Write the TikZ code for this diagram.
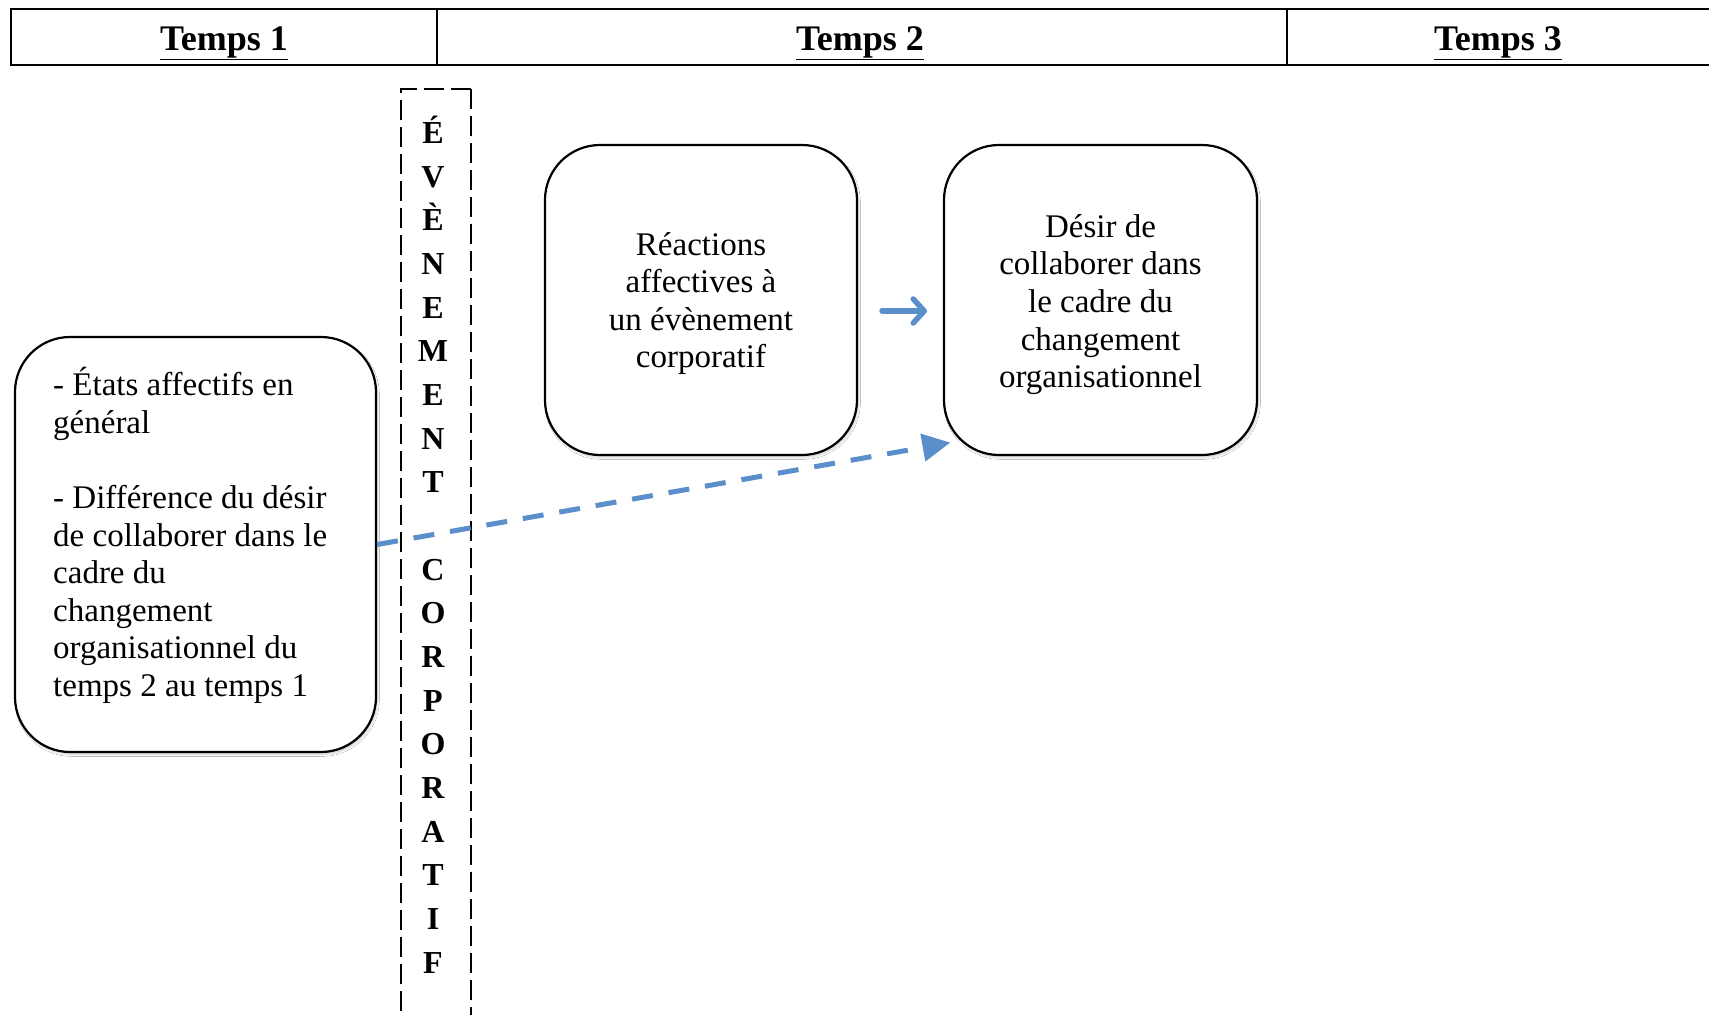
\documentclass[tikz,border=0pt]{standalone}
\usepackage{fontspec}
\setmainfont{Liberation Serif}
\usetikzlibrary{arrows.meta,shadows.blur}
\definecolor{linkblue}{HTML}{5B8FCC}

\tikzset{
  gridline/.style={draw=black, line width=2.4pt},
  headtext/.style={font=\bfseries\fontsize{36}{40}\selectfont, inner sep=0pt, anchor=base},
  card/.style={draw=black, line width=2.2pt, rounded corners=55pt, fill=white,
    blur shadow={shadow xshift=1.5pt, shadow yshift=-2.5pt, shadow opacity=18, shadow blur steps=6}},
  bodytext/.style={font=\fontsize{33}{37.6}\selectfont, inner sep=0pt},
  eventframe/.style={draw=black, line width=2.8pt, dash pattern=on 20pt off 7pt},
  eventletter/.style={font=\bfseries\fontsize{32}{34}\selectfont, inner sep=0pt, anchor=base},
  solidlink/.style={draw=linkblue, line width=5.5pt, line cap=round,
    -{Straight Barb[length=11pt, width=24pt, round]}},
  dashedlink/.style={draw=linkblue, line width=5pt, dash pattern=on 21pt off 16pt,
    -{Triangle[length=28pt, width=27pt]}},
}

\begin{document}
\begin{tikzpicture}[x=1pt, y=-1pt]
  \useasboundingbox (0,0) rectangle (1709,1015);
  \fill[white] (0,0) rectangle (1709,1015);

  % header row of the time line
  \coordinate (hnw) at (11,9);
  \coordinate (hse) at (1715,65);
  \draw[gridline] (hse |- hnw) -- (hnw) -- (hnw |- hse) -- (hse);
  \coordinate (d1) at (437,9);
  \coordinate (d2) at (1287,9);
  \draw[gridline] (d1) -- (d1 |- hse);
  \draw[gridline] (d2) -- (d2 |- hse);
  \node[headtext] (t1) at (224,50) {\underline{Temps 1}};
  \node[headtext] (t2) at (860,50) {\underline{Temps 2}};
  \node[headtext] (t3) at (1498,50) {\underline{Temps 3}};

  % corporate event band
  \coordinate (ev1) at (401,89);
  \coordinate (ev2) at (471,1030);
  \draw[eventframe] (ev2 |- ev1) -- (ev1) -- (ev1 |- ev2);
  \draw[eventframe] (ev2 |- ev1) -- (ev2);
  \foreach \l [count=\i from 0] in {É,V,È,N,E,M,E,N,T}
    \node[eventletter] (wa\i) at (433,143.6+43.66*\i) {\l};
  \foreach \l [count=\i from 10] in {C,O,R,P,O,R,A,T,I,F}
    \node[eventletter] (wb\i) at (433,143.6+43.66*\i) {\l};

  % boxes
  \node[card, minimum width=361pt, minimum height=415pt] (left) at (195.5,544.5) {};
  \node[card, minimum width=312pt, minimum height=310pt] (react) at (701,300) {};
  \node[card, minimum width=313pt, minimum height=310pt] (desir) at (1100.5,300) {};

  \node[bodytext, align=left, anchor=west] (lefttext) at (53,535.5) {%
    - États affectifs en\\ général\\[37.6pt]
    - Différence du désir\\ de collaborer dans le\\ cadre du\\ changement\\
    organisationnel du\\ temps 2 au temps 1};
  \node[bodytext, align=center] (reacttext) at (701,303.5) {%
    Réactions\\ affectives à\\ un évènement\\ corporatif};
  \node[bodytext, align=center] (desirtext) at (1100.5,304.5) {%
    Désir de\\ collaborer dans\\ le cadre du\\ changement\\ organisationnel};

  % links
  \coordinate (sa) at (882,311);
  \coordinate (sb) at (927,311);
  \draw[solidlink] (sa) -- (sb);
  \coordinate (dtip) at ([shift={(7.5,-13.5)}]desir.south west);
  \draw[dashedlink] (left.east) -- (dtip);
\end{tikzpicture}
\end{document}
